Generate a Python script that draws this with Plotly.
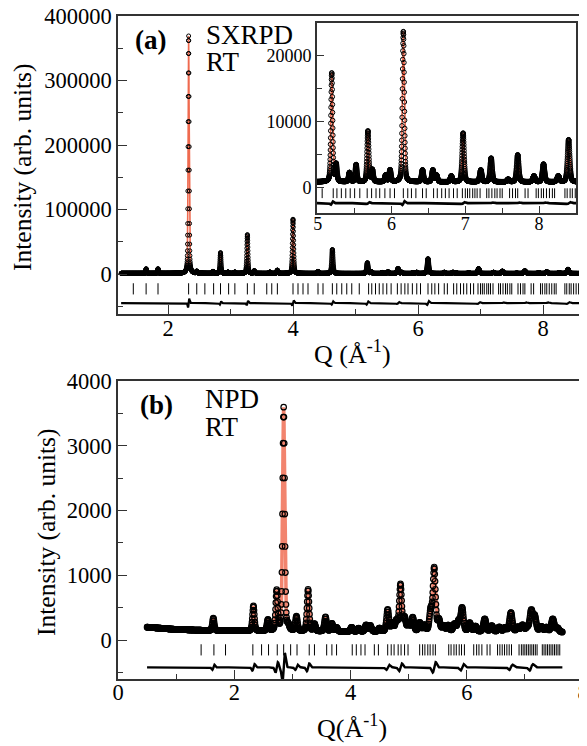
import numpy as np
import plotly.graph_objects as go

# ---------------- data ----------------
# (a) SXRPD, RT : peak positions (Q, 1/A) and heights above background
peak_q_a = [1.65, 1.84, 2.33, 2.46, 2.72, 2.84, 2.96, 3.07, 3.27, 3.38, 3.63, 3.75, 4.00, 4.40, 4.63,
            5.19, 5.25, 5.43, 5.52, 5.68, 5.74, 5.92, 5.98, 6.16, 6.42, 6.56, 6.61, 6.81, 6.97,
            7.21, 7.35, 7.58, 7.71, 7.93, 8.06, 8.26, 8.40]
peak_h_a = [7000, 7000, 368000, 3000, 3000, 32000, 2000, 2000, 60000, 4000, 2000, 5000, 84000, 3000, 37000,
            16500, 2600, 1400, 2600, 7700, 1800, 1000, 1800, 22800, 1800, 1800, 1000, 900, 7400,
            1800, 3600, 400, 4100, 900, 2700, 900, 6400]
bg_q_a = [1.25, 3.0, 5.0, 7.0, 8.6]
bg_i_a = [1100, 1000, 900, 900, 900]
diff_q_a = [2.33, 2.84, 3.27, 4.00, 4.63, 5.19, 5.68, 6.16, 6.97, 7.35, 7.71, 8.06, 8.40]
diff_amp_a = [7000, 2500, 3500, 4000, 2500, 2500, 1500, 3000, 1500, 1000, 1000, 1000, 1500]
refl_a = [1.445, 1.65, 1.84, 2.33, 2.46, 2.59, 2.73, 2.84, 2.97, 3.07, 3.27, 3.38, 3.58, 3.66, 3.75,
          4.00, 4.08, 4.16, 4.24, 4.40, 4.48, 4.63, 4.70, 4.78, 4.86, 4.94, 5.06, 5.21, 5.26, 5.32,
          5.38, 5.44, 5.50, 5.57, 5.67, 5.73, 5.79, 5.84, 5.91, 5.98, 6.04, 6.16, 6.22, 6.27, 6.33,
          6.42, 6.47, 6.57, 6.62, 6.68, 6.73, 6.78, 6.84, 6.89, 6.96, 7.00, 7.03, 7.06, 7.10, 7.13,
          7.16, 7.20, 7.29, 7.32, 7.36, 7.40, 7.43, 7.47, 7.50, 7.60, 7.64, 7.68, 7.71, 7.81, 7.85,
          7.96, 7.99, 8.03, 8.06, 8.10, 8.14, 8.18, 8.21, 8.35, 8.38, 8.42, 8.45, 8.49, 8.53, 8.57, 8.60]
q_range_a = [1.25, 8.62]
q_step_a = 0.0015

# (b) NPD, RT
peak_q_b = [1.64, 2.33, 2.58, 2.73, 2.85, 2.93, 3.07, 3.27, 3.38, 3.57, 3.68, 3.76, 4.02, 4.14,
            4.27, 4.34, 4.50, 4.64, 4.72, 4.79, 4.86, 4.93, 5.00, 5.07, 5.19, 5.27, 5.38, 5.44,
            5.52, 5.60, 5.68, 5.79, 5.86, 5.92, 6.05, 6.15, 6.31, 6.43, 6.56, 6.66, 6.76, 6.88,
            6.96, 7.04, 7.11, 7.17, 7.28, 7.37, 7.48, 7.56]
peak_h_b = [190, 385, 170, 610, 3450, 60, 220, 645, 110, 220, 120, 60, 65, 50,
            100, 90, 50, 335, 120, 155, 720, 200, 110, 210, 130, 90, 310, 970,
            170, 80, 90, 110, 150, 360, 130, 80, 195, 90, 70, 60, 295, 70,
            100, 60, 320, 230, 80, 70, 200, 60]
bg_q_b = [0.5, 1.0, 1.5, 2.5, 4.0, 6.0, 7.65]
bg_i_b = [200, 165, 150, 140, 130, 130, 120]
diff_q_b = [1.64, 2.33, 2.73, 2.85, 3.07, 3.27, 4.64, 4.86, 5.44, 5.92, 6.76, 7.11]
diff_amp_b = [40, 50, 80, 220, 40, 60, 40, 60, 80, 50, 40, 50]
refl_b = [1.43, 1.65, 1.85, 2.32, 2.47, 2.59, 2.74, 2.85, 2.97, 3.08, 3.29, 3.38, 3.59, 3.68, 3.76,
          4.03, 4.10, 4.18, 4.25, 4.41, 4.48, 4.64, 4.70, 4.75, 4.82, 4.87, 4.93, 4.99, 5.19, 5.24,
          5.28, 5.33, 5.37, 5.42, 5.46, 5.69, 5.73, 5.78, 5.82, 5.87, 5.91, 5.96, 6.12, 6.17, 6.21,
          6.26, 6.35, 6.40, 6.53, 6.57, 6.61, 6.65, 6.69, 6.73, 6.77, 6.90, 6.94, 6.97, 7.00, 7.03,
          7.06, 7.09, 7.12, 7.15, 7.18, 7.21, 7.30, 7.33, 7.36, 7.39, 7.42, 7.45, 7.48, 7.51, 7.54,
          7.57, 7.60]
q_range_b = [0.5, 7.65]
q_step_b = 0.005

# ---------------- profile construction from the read peak lists ----------------
def pv(q, centers, heights, w0, w1, eta):
    y = np.zeros_like(q)
    for c, h in zip(centers, heights):
        w = w0 + w1 * c
        u = (q - c) / w
        y += h * ((1 - eta) * np.exp(-4 * np.log(2) * u * u) + eta / (1 + 4 * u * u))
    return y

def dshape(q, centers, amps, w0, w1):
    y = np.zeros_like(q)
    for c, a in zip(centers, amps):
        s = (w0 + w1 * c) / 2
        u = (q - c) / s
        y += a * u * np.exp(0.5 - 0.5 * u * u)
    return y

qa = np.arange(q_range_a[0], q_range_a[1], q_step_a)
calc_a = np.interp(qa, bg_q_a, bg_i_a) + pv(qa, peak_q_a, peak_h_a, 0.012, 0.003, 0.3)
resid_a = dshape(qa, diff_q_a, diff_amp_a, 0.012, 0.003)

qb = np.arange(q_range_b[0], q_range_b[1], q_step_b)
calc_b = np.interp(qb, bg_q_b, bg_i_b) + pv(qb, peak_q_b, peak_h_b, 0.030, 0.004, 0.3)
resid_b = dshape(qb, diff_q_b, diff_amp_b, 0.030, 0.004)

# ---------------- figure ----------------
W, H = 587, 746
OFF = 8  # page body margin: figure is drawn 8 px right / down of the window corner
FONT = "Liberation Serif"
RED_A = "#ef6a4f"
RED_B = "rgba(240,110,85,0.85)"
AX = "#333333"

def dx(p0, p1):
    return [(p0 - OFF) / W, (p1 - OFF) / W]

def dy(top, bottom):
    return [1 - (bottom - OFF) / H, 1 - (top - OFF) / H]

fig = go.Figure()

# panel (a)
fig.add_trace(go.Scatter(x=qa, y=calc_a, mode="lines", line=dict(color=RED_A, width=1.6),
                         xaxis="x", yaxis="y", hoverinfo="skip"))
fig.add_trace(go.Scatter(x=qa, y=calc_a, mode="markers",
                         marker=dict(symbol="circle-open", size=4, color="black", line=dict(width=1)),
                         xaxis="x", yaxis="y"))
fig.add_trace(go.Scatter(x=refl_a, y=[-23000] * len(refl_a), mode="markers",
                         marker=dict(symbol="line-ns", size=8, line=dict(width=1, color="black")),
                         xaxis="x", yaxis="y"))
fig.add_trace(go.Scatter(x=qa, y=-45000 + resid_a, mode="lines", line=dict(color="black", width=2.2),
                         xaxis="x", yaxis="y"))

# inset
m = (qa >= 4.98) & (qa <= 8.52)
fig.add_trace(go.Scatter(x=qa[m], y=calc_a[m], mode="lines", line=dict(color=RED_A, width=1.6),
                         xaxis="x2", yaxis="y2"))
fig.add_trace(go.Scatter(x=qa[m], y=calc_a[m], mode="markers",
                         marker=dict(symbol="circle-open", size=4.5, color="black", line=dict(width=1)),
                         xaxis="x2", yaxis="y2"))
refl_in = [r for r in refl_a if 5.0 <= r <= 8.5]
fig.add_trace(go.Scatter(x=refl_in, y=[-800] * len(refl_in), mode="markers",
                         marker=dict(symbol="line-ns", size=7, line=dict(width=1, color="black")),
                         xaxis="x2", yaxis="y2"))
fig.add_trace(go.Scatter(x=qa[m], y=-2300 + 0.1 * resid_a[m], mode="lines",
                         line=dict(color="black", width=2.6), xaxis="x2", yaxis="y2"))

# panel (b)
fig.add_trace(go.Scatter(x=qb, y=calc_b, mode="lines", line=dict(color=RED_B, width=3.5),
                         xaxis="x3", yaxis="y3"))
fig.add_trace(go.Scatter(x=qb, y=calc_b, mode="markers",
                         marker=dict(symbol="circle-open", size=5.5, color="black", line=dict(width=1.2)),
                         xaxis="x3", yaxis="y3"))
fig.add_trace(go.Scatter(x=refl_b, y=[-150] * len(refl_b), mode="markers",
                         marker=dict(symbol="line-ns", size=8, line=dict(width=1, color="black")),
                         xaxis="x3", yaxis="y3"))
fig.add_trace(go.Scatter(x=qb, y=-420 + resid_b, mode="lines", line=dict(color="black", width=2.4),
                         xaxis="x3", yaxis="y3"))

def axis(domain, rng, dtick, minor_dtick, anchor, size=22.5, ticklen=9, standoff=0):
    return dict(domain=domain, range=rng, anchor=anchor, tickmode="linear", tick0=0, dtick=dtick,
                tickformat="d", automargin=False, ticklabelstandoff=standoff,
                ticklabeloverflow="allow",
                showline=True, mirror=True, linecolor=AX, linewidth=1.6,
                ticks="inside", ticklen=ticklen, tickwidth=1.3, tickcolor=AX,
                showgrid=False, zeroline=False,
                tickfont=dict(family=FONT, size=size, color="black"),
                minor=dict(ticks="inside", ticklen=5, tickwidth=1.3, tickcolor=AX, dtick=minor_dtick,
                           tick0=0, showgrid=False))

fig.update_layout(
    template="none",
    width=W, height=H, margin=dict(l=0, r=0, t=0, b=0),
    paper_bgcolor="white", plot_bgcolor="white", showlegend=False,
    xaxis=axis(dx(118, 583), [1.2, 8.64], 2, 1, "y", standoff=-7),
    yaxis=axis(dy(16, 314), [-62000, 400000], 100000, 50000, "x"),
    xaxis2=axis(dx(317, 576), [4.99, 8.5], 1, 0.5, "y2", size=18, ticklen=7, standoff=-6),
    yaxis2=axis(dy(23, 213), [-3800, 25000], 10000, 5000, "x2", size=18, ticklen=7),
    xaxis3=axis(dx(118, 583), [0, 8], 2, 1, "y3", standoff=-8),
    yaxis3=axis(dy(381, 679), [-600, 4000], 1000, 500, "x3"),
)

def ann(text, x, y, size, bold=False, angle=0, xanchor="center"):
    t = f"<b>{text}</b>" if bold else text
    fig.add_annotation(text=t, x=(x - OFF) / W, y=1 - (y - OFF) / H, xref="paper", yref="paper",
                       showarrow=False, textangle=angle,
                       font=dict(family=FONT, size=size, color="black"),
                       xanchor=xanchor, yanchor="middle")

ann("Intensity (arb. units)", 22, 167, 25.5, angle=-90)
ann("Intensity (arb. units)", 46, 532, 25.5, angle=-90)
ann("Q (Å<sup>-1</sup>)", 352, 352, 26)
ann("Q(Å<sup>-1</sup>)", 352, 726, 26)
ann("(a)", 150, 40, 27, bold=True)
ann("(b)", 157, 405, 27, bold=True)
ann("SXRPD", 204, 35, 27, xanchor="left")
ann("RT", 204, 62, 27, xanchor="left")
ann("NPD", 203, 399, 27, xanchor="left")
ann("RT", 203, 427, 27, xanchor="left")

fig.write_html("out.html")
